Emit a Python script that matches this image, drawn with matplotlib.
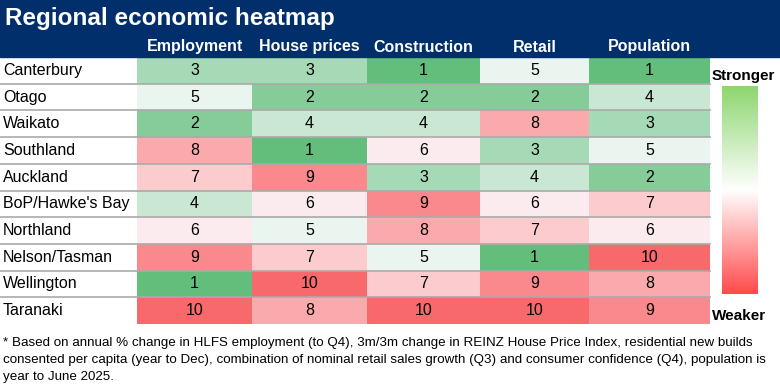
import matplotlib
matplotlib.use('Agg')
import matplotlib.pyplot as plt
import numpy as np
from matplotlib.colors import LinearSegmentedColormap, TwoSlopeNorm
from matplotlib.patches import Rectangle
from matplotlib.lines import Line2D

# ---------------------------------------------------------------------------
# Data (ranks, 1 = strongest)
# ---------------------------------------------------------------------------

REGIONS = ['Canterbury', 'Otago', 'Waikato', 'Southland', 'Auckland',
           "BoP/Hawke's Bay", 'Northland', 'Nelson/Tasman', 'Wellington', 'Taranaki']
COLUMNS = ['Employment', 'House prices', 'Construction', 'Retail', 'Population']

employment = [3, 5, 2, 8, 7, 4, 6, 9, 1, 10]
house_prices = [3, 2, 4, 1, 9, 6, 5, 7, 10, 8]
construction = [1, 2, 4, 6, 3, 9, 8, 5, 7, 10]
retail = [5, 2, 8, 3, 4, 6, 7, 1, 9, 10]
population = [1, 4, 3, 5, 2, 7, 6, 10, 8, 9]

FOOTNOTE = [
    '* Based on annual % change in HLFS employment (to Q4), 3m/3m change in REINZ House Price Index, residential new builds',
    'consented per capita (year to Dec), combination of nominal retail sales growth (Q3) and consumer confidence (Q4), population is',
    'year to June 2025.',
]

# ---------------------------------------------------------------------------
# Layout (pixels on a 780x390 canvas)
# ---------------------------------------------------------------------------

W, H = 780, 390
NAVY = '#002F6C'
FONT = 'Liberation Sans'
HEADER_BOTTOM = 57
TABLE_LEFT, TABLE_RIGHT, TABLE_BOTTOM = 137, 710, 324
COL_EDGES = [137, 252, 367, 480, 589, 710]

plt.rcParams['font.family'] = FONT

fig = plt.figure(figsize=(W / 100, H / 100), dpi=100, facecolor='white')


def fx(px):
    return px / W


def fy(py):
    return 1 - py / H


# header band
fig.patches.append(Rectangle((0, fy(HEADER_BOTTOM)), 1, 1 - fy(HEADER_BOTTOM),
                             transform=fig.transFigure, color=NAVY, zorder=0))
fig.text(fx(5), fy(19), 'Regional economic heatmap', color='white',
         fontsize=17.5, fontweight='bold', ha='left', va='center')

# heatmap
values = np.array([employment, house_prices, construction, retail, population]).T
cmap = LinearSegmentedColormap.from_list('rank', ['#63BE7B', '#FCFCFF', '#F8696B'])
norm = TwoSlopeNorm(vmin=1, vcenter=5.5, vmax=10)

ax = fig.add_axes([fx(TABLE_LEFT), fy(TABLE_BOTTOM),
                   fx(TABLE_RIGHT - TABLE_LEFT), (TABLE_BOTTOM - HEADER_BOTTOM) / H])
xe = np.array(COL_EDGES, dtype=float)
ye = np.arange(len(REGIONS) + 1)
ax.pcolormesh(xe, ye, values, cmap=cmap, norm=norm)
ax.set_xlim(xe[0], xe[-1])
ax.set_ylim(len(REGIONS), 0)
ax.axis('off')

xc = (xe[:-1] + xe[1:]) / 2
for i in range(len(REGIONS)):
    for j in range(len(COLUMNS)):
        ax.text(xc[j], i + 0.5, str(values[i, j]), ha='center', va='center',
                fontsize=11.5, color='black')

# column headers
for j, name in enumerate(COLUMNS):
    fig.text(fx(xc[j]), fy(47), name, color='white', fontsize=11.5,
             fontweight='bold', ha='center', va='center')

# row labels and separators
row_h = (TABLE_BOTTOM - HEADER_BOTTOM) / len(REGIONS)
for i, name in enumerate(REGIONS):
    fig.text(fx(3), fy(HEADER_BOTTOM + (i + 0.5) * row_h), name,
             fontsize=11.5, ha='left', va='center')
    if i > 0:
        yline = fy(HEADER_BOTTOM + i * row_h)
        fig.add_artist(Line2D([0, fx(TABLE_RIGHT)], [yline, yline],
                              transform=fig.transFigure, color='#AAAAAA', lw=1.2))

# legend bar
lax = fig.add_axes([fx(722), fy(294), fx(36), (294 - 86) / H])
lcmap = LinearSegmentedColormap.from_list('leg', ['#8DD66F', '#FFFFFF', '#FF4A4A'])
lax.imshow(np.linspace(0, 1, 256).reshape(-1, 1), cmap=lcmap, aspect='auto')
lax.axis('off')
fig.text(fx(712), fy(76), 'Stronger', fontsize=11, fontweight='bold', ha='left', va='center')
fig.text(fx(712), fy(316), 'Weaker', fontsize=11, fontweight='bold', ha='left', va='center')

# footnote
for k, line in enumerate(FOOTNOTE):
    fig.text(fx(3), fy(343 + 17 * k), line, fontsize=9.6, ha='left', va='center')

fig.savefig('out.png', dpi=100, facecolor='white')
